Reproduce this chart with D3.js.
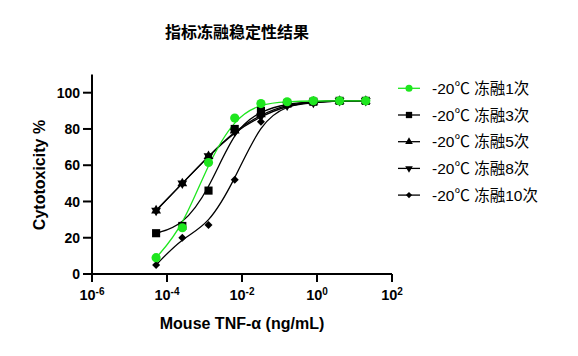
<!DOCTYPE html>
<html>
<head>
<meta charset="utf-8">
<script src="https://cdn.jsdelivr.net/npm/d3@7"></script>
<style>
  html, body { margin: 0; padding: 0; background: #fff; }
  svg { display: block; }
</style>
</head>
<body>
<svg id="chart" width="578" height="356"></svg>
<script>
// ---- data ----
const concentrations = [0.0000512, 0.000256, 0.00128, 0.0064, 0.032, 0.16, 0.8, 4, 20];
const seriesNames = ["-20℃ 冻融1次", "-20℃ 冻融3次", "-20℃ 冻融5次", "-20℃ 冻融8次", "-20℃ 冻融10次"];
const thaw1  = [9, 25.5, 61.5, 86, 94, 95, 95.5, 95.5, 95.5];
const thaw3  = [22.5, 26.5, 46, 80, 90, 94, 95, 95.5, 95.5];
const thaw5  = [35, 50, 65, 79, 88, 93.5, 95, 95.5, 95.5];
const thaw8  = [35, 50, 65, 78.5, 87, 93, 94.5, 95.5, 95.5];
const thaw10 = [5, 20, 27, 52, 84, 93, 95, 95.5, 95.5];
const xTickExponents = [-6, -4, -2, 0, 2];
const yTicks = [0, 20, 40, 60, 80, 100];
const titleText = "指标冻融稳定性结果";
const xTitle = "Mouse TNF-α (ng/mL)";
const yTitle = "Cytotoxicity %";

// ---- setup ----
const svg = d3.select("#chart");
const x = d3.scaleLog().domain([1e-6, 1e2]).range([92, 392]);
const y = d3.scaleLinear().domain([0, 110]).range([274, 274 - 110 * 1.813]);

const GREEN = "#1ee61e";
const series = [
  { name: seriesNames[4], values: thaw10, color: "#000", shape: "diamond" },
  { name: seriesNames[3], values: thaw8,  color: "#000", shape: "tridown" },
  { name: seriesNames[2], values: thaw5,  color: "#000", shape: "triup" },
  { name: seriesNames[1], values: thaw3,  color: "#000", shape: "square" },
  { name: seriesNames[0], values: thaw1,  color: GREEN,  shape: "circle" }
];

function markerPath(shape, scale) {
  const s = scale || 1;
  switch (shape) {
    case "circle":  return { d: d3.symbol(d3.symbolCircle, 66 * s)(), rot: 0 };
    case "square":  return { d: d3.symbol(d3.symbolSquare, 66 * s)(), rot: 0 };
    case "triup":   return { d: d3.symbol(d3.symbolTriangle, 42 * s)(), rot: 0 };
    case "tridown": return { d: d3.symbol(d3.symbolTriangle, 42 * s)(), rot: 180 };
    case "diamond": return { d: d3.symbol(d3.symbolSquare, 32 * s)(), rot: 45 };
  }
}

const line = d3.line()
  .x(d => x(d[0]))
  .y(d => y(d[1]))
  .curve(d3.curveBasis);

// ---- axes ----
const font = "'Liberation Sans', Arial, 'Noto Sans CJK SC', sans-serif";

const xAxis = svg.append("g").attr("transform", "translate(0,274)");
xAxis.append("line").attr("x1", x(1e-6)).attr("x2", x(1e2)).attr("y1", 0).attr("y2", 0)
  .attr("stroke", "#000").attr("stroke-width", 2);
xTickExponents.forEach(e => {
  const xv = x(Math.pow(10, e));
  xAxis.append("line").attr("x1", xv).attr("x2", xv).attr("y1", 0).attr("y2", 8)
    .attr("stroke", "#000").attr("stroke-width", 2);
  const t = xAxis.append("text").attr("x", xv).attr("y", 26)
    .attr("text-anchor", "middle").attr("font-family", font).attr("font-weight", "bold")
    .attr("font-size", 14.5).attr("fill", "#000");
  t.append("tspan").text("10");
  t.append("tspan").attr("font-size", 10).attr("dy", -5).text(e);
});

const yAxis = svg.append("g");
yAxis.append("line").attr("x1", 92).attr("x2", 92).attr("y1", 275).attr("y2", y(110))
  .attr("stroke", "#000").attr("stroke-width", 2);
yTicks.forEach(v => {
  yAxis.append("line").attr("x1", 83).attr("x2", 92).attr("y1", y(v)).attr("y2", y(v))
    .attr("stroke", "#000").attr("stroke-width", 2);
  yAxis.append("text").attr("x", 80).attr("y", y(v)).attr("dy", "0.36em")
    .attr("text-anchor", "end").attr("font-family", font).attr("font-weight", "bold")
    .attr("font-size", 14).attr("fill", "#000").text(v);
});

// titles
svg.append("text").attr("x", 237).attr("y", 38).attr("text-anchor", "middle")
  .attr("font-family", "'Noto Sans CJK SC', sans-serif").attr("font-weight", "bold")
  .attr("font-size", 16).attr("fill", "#000").text(titleText);

svg.append("text").attr("x", 242).attr("y", 329).attr("text-anchor", "middle")
  .attr("font-family", font).attr("font-weight", "bold")
  .attr("font-size", 16).attr("fill", "#000").text(xTitle);

svg.append("text").attr("transform", "translate(45,175) rotate(-90)").attr("text-anchor", "middle")
  .attr("font-family", font).attr("font-weight", "bold")
  .attr("font-size", 16).attr("fill", "#000").text(yTitle);

// ---- series ----
const plot = svg.append("g");
series.forEach(s => {
  const pts = concentrations.map((c, i) => [c, s.values[i]]);
  plot.append("path").attr("d", line(pts)).attr("fill", "none")
    .attr("stroke", s.color).attr("stroke-width", 1.3);
});
series.forEach(s => {
  const m = markerPath(s.shape, 1);
  concentrations.forEach((c, i) => {
    plot.append("path").attr("d", m.d)
      .attr("transform", `translate(${x(c)},${y(s.values[i])}) rotate(${m.rot})`)
      .attr("fill", s.color);
  });
});

// ---- legend ----
const legendRows = [0, 1, 2, 3, 4];
const legendOrder = [4, 3, 2, 1, 0]; // index into series (1次 first)
const legend = svg.append("g");
legendRows.forEach(r => {
  const s = series[legendOrder[r]];
  const cy = 88.3 + r * 26.7;
  legend.append("line").attr("x1", 398).attr("x2", 420).attr("y1", cy).attr("y2", cy)
    .attr("stroke", s.color).attr("stroke-width", 1.3);
  const m = markerPath(s.shape, 0.6);
  legend.append("path").attr("d", m.d)
    .attr("transform", `translate(409,${cy}) rotate(${m.rot})`).attr("fill", s.color);
  legend.append("text").attr("x", 432).attr("y", cy).attr("dy", "0.36em")
    .attr("font-family", "'Liberation Sans', Arial, 'Noto Sans CJK SC', sans-serif")
    .attr("font-size", 15.5).attr("fill", "#000").text(s.name);
});
</script>
</body>
</html>
